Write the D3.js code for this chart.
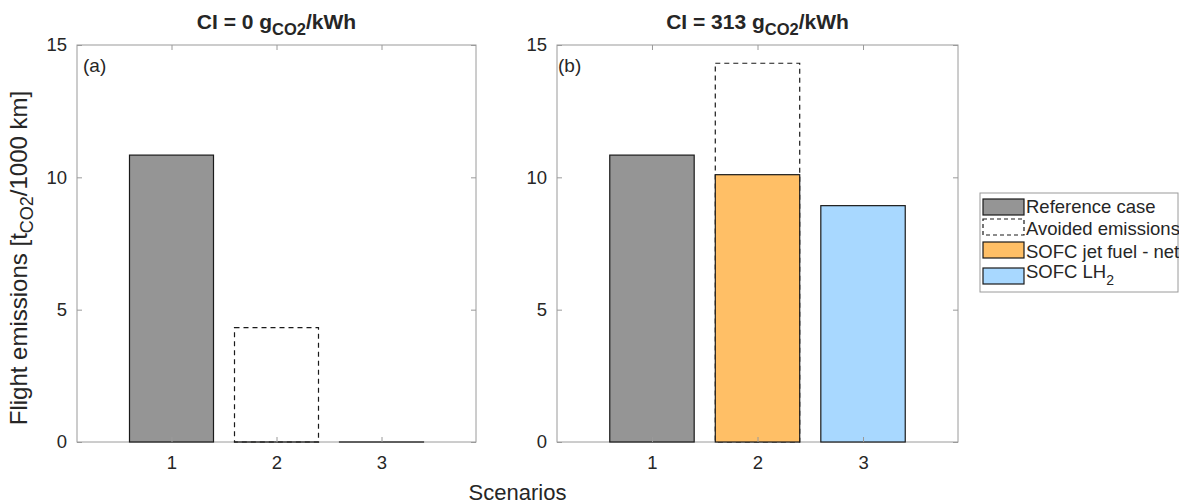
<!DOCTYPE html>
<html>
<head>
<meta charset="utf-8">
<script src="https://cdn.jsdelivr.net/npm/d3@7"></script>
<style>
  body { margin: 0; background: #fff; }
  text { font-family: Helvetica, "Liberation Sans", Arial, sans-serif; fill: #262626; }
</style>
</head>
<body>
<script>
// data
let scenarios = [1, 2, 3];
let panelTitles = ['0', '313'];
let panelTags = ['(a)', '(b)'];
// reference case (conventional), per panel
let referenceCase = [[10.84, 0, 0], [10.84, 0, 0]];
// gross level drawn as dashed "avoided emissions" outline
let avoidedTop = [[0, 4.32, 0], [0, 14.31, 0]];
let jetFuelNet = [[0, 0, 0], [0, 10.1, 0]];
let lh2 = [[0, 0, 0], [0, 0, 8.93]];
let yTicks = [0, 5, 10, 15];
let legendLabels = ['Reference case', 'Avoided emissions', 'SOFC jet fuel - net', 'SOFC LH'];

let colors = { ref: '#959595', jet: '#ffbf66', lh2: '#a8d8ff', edge: '#1a1a1a', axis: '#9a9a9a' };

let frame = { width: 1179, height: 504 };
let panels = [{ left: 77, right: 476, tagX: 83 }, { left: 557, right: 958, tagX: 558 }];
let plotTop = 45, plotBottom = 442;

let svg = d3.select('body')
	.append('svg')
	.attr('width', frame.width)
	.attr('height', frame.height);

let yScale = d3.scaleLinear().domain([0, 15]).range([plotBottom, plotTop]);
let barW = 0.8;

panels.forEach((p, k) => {
	let xScale = d3.scaleLinear().domain([0.1, 3.9]).range([p.left, p.right]);
	let g = svg.append('g');
	let bw = xScale(barW) - xScale(0);

	// box
	g.append('rect')
		.attr('x', p.left).attr('y', plotTop)
		.attr('width', p.right - p.left).attr('height', plotBottom - plotTop)
		.attr('fill', 'none').attr('stroke', colors.axis).attr('stroke-width', 1);

	// avoided emissions (dashed) behind
	g.selectAll('.avoided')
		.data(scenarios.filter((d, i) => avoidedTop[k][i] > 0))
		.enter().append('rect')
		.attr('x', d => xScale(d) - bw / 2)
		.attr('y', d => yScale(avoidedTop[k][d - 1]))
		.attr('width', bw)
		.attr('height', d => yScale(0) - yScale(avoidedTop[k][d - 1]))
		.attr('fill', 'none')
		.attr('stroke', colors.edge)
		.attr('stroke-width', 1.2)
		.attr('stroke-dasharray', '5,4');

	let series = [
		{ v: referenceCase[k], c: colors.ref },
		{ v: jetFuelNet[k], c: colors.jet },
		{ v: lh2[k], c: colors.lh2 }
	];
	series.forEach(s => {
		g.selectAll(null)
			.data(scenarios)
			.enter().append('rect')
			.attr('x', d => xScale(d) - bw / 2)
			.attr('y', d => yScale(s.v[d - 1]))
			.attr('width', bw)
			// zero bars still show as a flat line, as in matlab
			.attr('height', d => Math.max(yScale(0) - yScale(s.v[d - 1]), 0.01))
			.attr('fill', s.c)
			.attr('stroke', colors.edge)
			.attr('stroke-width', 1.2)
			// only draw a zero bar where something shows up in the reference
			.attr('display', d => (s.v[d - 1] > 0 || (k === 0 && ((s.c === colors.jet && d === 2) || (s.c === colors.lh2 && d === 3)))) ? null : 'none');
	});

	// axes
	let xAxis = d3.axisBottom(xScale).tickValues(scenarios).tickSize(-5).tickPadding(14).tickFormat(d3.format('d'));
	let xa = g.append('g').attr('transform', `translate(0,${plotBottom})`).call(xAxis);
	let xTop = d3.axisTop(xScale).tickValues(scenarios).tickSize(-5).tickFormat('');
	let xt = g.append('g').attr('transform', `translate(0,${plotTop})`).call(xTop);
	let yAxis = d3.axisLeft(yScale).tickValues(yTicks).tickSize(-5).tickPadding(10);
	let ya = g.append('g').attr('transform', `translate(${p.left},0)`).call(yAxis);
	let yRight = d3.axisRight(yScale).tickValues(yTicks).tickSize(-5).tickFormat('');
	let yr = g.append('g').attr('transform', `translate(${p.right},0)`).call(yRight);
	[xa, xt, ya, yr].forEach(a => {
		a.select('.domain').remove();
		a.selectAll('line').attr('stroke', colors.axis);
		a.selectAll('text').attr('font-size', 18.5).attr('fill', '#262626')
			.style('font-family', 'Helvetica, "Liberation Sans", Arial, sans-serif');
	});

	// title
	let t = g.append('text')
		.attr('x', (p.left + p.right) / 2)
		.attr('y', 29)
		.attr('text-anchor', 'middle')
		.attr('font-size', 21)
		.attr('font-weight', 'bold');
	t.append('tspan').text(`CI = ${panelTitles[k]} g`);
	t.append('tspan').attr('font-size', 16.5).attr('dy', 6).text('CO2');
	t.append('tspan').attr('dy', -6).text('/kWh');

	g.append('text')
		.attr('x', p.tagX)
		.attr('y', 72)
		.attr('font-size', 19)
		.text(panelTags[k]);
});

// y label
let yl = svg.append('text')
	.attr('transform', 'translate(27,258) rotate(-90)')
	.attr('text-anchor', 'middle')
	.attr('font-size', 24);
yl.append('tspan').text('Flight emissions [t');
yl.append('tspan').attr('font-size', 18).attr('dy', 6).text('CO2');
yl.append('tspan').attr('dy', -6).text('/1000 km]');

// x label
svg.append('text')
	.attr('x', (panels[0].left + panels[1].right) / 2)
	.attr('y', 500)
	.attr('text-anchor', 'middle')
	.attr('font-size', 22)
	.text('Scenarios');

// legend
let lg = svg.append('g').attr('transform', 'translate(980,193)');
lg.append('rect')
	.attr('width', 198).attr('height', 99)
	.attr('fill', '#fff').attr('stroke', '#9a9a9a');
let swatches = [
	{ fill: colors.ref, dash: null },
	{ fill: 'none', dash: '4,3' },
	{ fill: colors.jet, dash: null },
	{ fill: colors.lh2, dash: null }
];
let swatchY = [6, 26, 49, 75];
let textY = [20, 42, 65, 85];
legendLabels.forEach((label, i) => {
	lg.append('rect')
		.attr('x', 3).attr('y', swatchY[i])
		.attr('width', 41).attr('height', 16)
		.attr('fill', swatches[i].fill)
		.attr('stroke', colors.edge)
		.attr('stroke-width', 1.2)
		.attr('stroke-dasharray', swatches[i].dash);
	let tx = lg.append('text')
		.attr('x', 46).attr('y', textY[i])
		.attr('font-size', 18.5)
		.text(label);
	if (i === 3) tx.append('tspan').attr('font-size', 14).attr('dy', 7).text('2');
});
</script>
</body>
</html>
